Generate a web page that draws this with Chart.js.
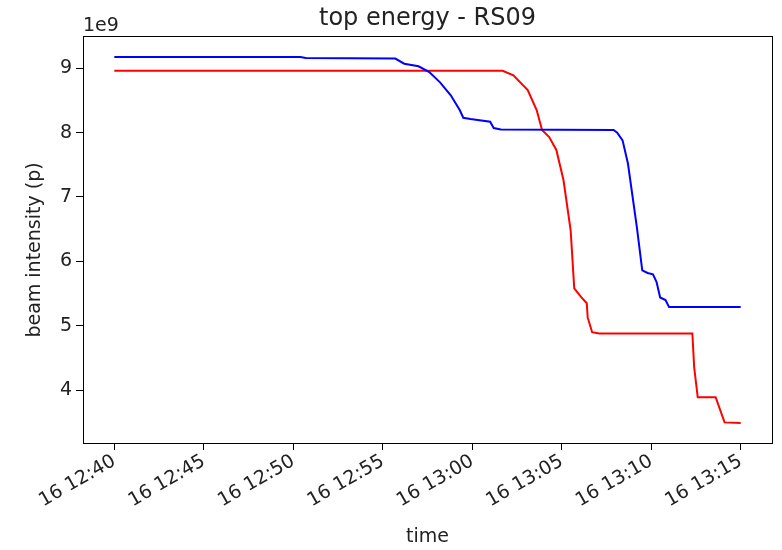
<!DOCTYPE html>
<html>
<head>
<meta charset="utf-8">
<script src="https://cdn.jsdelivr.net/npm/chart.js@4/dist/chart.umd.min.js"></script>
<style>
  html, body { margin: 0; padding: 0; background: #fff; }
  #wrap { width: 782px; height: 550px; }
</style>
</head>
<body>
<div id="wrap"><canvas id="chart" width="782" height="550"></canvas></div>
<script>
// minutes after 16 12:40, values in units of 1e9 protons
const blueMin = [0, 10.4, 10.7, 15.7, 16.2, 17.0, 17.6, 18.2, 18.8, 19.3, 19.5, 19.9, 21.0, 21.2, 21.6, 27.9, 28.1, 28.4, 28.7, 29.2, 29.5, 29.8, 30.1, 30.3, 30.5, 30.8, 31.0, 35];
const blueVal = [9.175, 9.175, 9.16, 9.15, 9.07, 9.03, 8.94, 8.78, 8.58, 8.35, 8.23, 8.21, 8.17, 8.07, 8.05, 8.04, 8.0, 7.88, 7.52, 6.53, 5.86, 5.82, 5.80, 5.68, 5.44, 5.40, 5.29, 5.29];

const redMin = [0, 21.7, 22.3, 23.1, 23.6, 23.9, 24.3, 24.7, 25.1, 25.5, 25.7, 26.1, 26.4, 26.45, 26.7, 27.1, 32.3, 32.4, 32.6, 33.6, 34.1, 35];
const redVal = [8.96, 8.96, 8.89, 8.66, 8.35, 8.04, 7.93, 7.73, 7.26, 6.48, 5.58, 5.44, 5.35, 5.13, 4.90, 4.88, 4.88, 4.36, 3.89, 3.89, 3.50, 3.49];

const xTicks = [0, 5, 10, 15, 20, 25, 30, 35];
const xLabels = ['16 12:40', '16 12:45', '16 12:50', '16 12:55', '16 13:00', '16 13:05', '16 13:10', '16 13:15'];
const yTicks = [4, 5, 6, 7, 8, 9];

const pts = (xs, ys) => xs.map((x, i) => ({ x, y: ys[i] }));
const FONT = 'DejaVu Sans';
const FS = 19;

// frame, title, y label and offset text drawn the matplotlib way
const decor = {
  id: 'decor',
  afterDraw(chart) {
    const { ctx, chartArea: a } = chart;
    ctx.save();
    ctx.strokeStyle = '#000';
    ctx.lineWidth = 1;
    ctx.strokeRect(Math.round(a.left) + 0.5, Math.round(a.top) + 0.5, Math.round(a.right - a.left), Math.round(a.bottom - a.top));
    ctx.fillStyle = '#222';
    ctx.font = '24px "' + FONT + '"';
    ctx.textAlign = 'center';
    ctx.textBaseline = 'alphabetic';
    ctx.fillText('top energy - RS09', (a.left + a.right) / 2, a.top - 11);
    ctx.font = FS + 'px "' + FONT + '"';
    ctx.textAlign = 'left';
    ctx.fillText('1e9', a.left, a.top - 5);
    // y axis label
    ctx.translate(40, 250);
    ctx.rotate(-Math.PI / 2);
    ctx.textAlign = 'center';
    ctx.fillText('beam intensity (p)', 0, 0);
    ctx.restore();
  }
};

new Chart(document.getElementById('chart'), {
  type: 'scatter',
  data: {
    datasets: [
      { data: pts(blueMin, blueVal), borderColor: '#0000ff', borderWidth: 2, showLine: true, pointRadius: 0, tension: 0 },
      { data: pts(redMin, redVal), borderColor: '#ff0000', borderWidth: 2, showLine: true, pointRadius: 0, tension: 0 }
    ]
  },
  options: {
    responsive: false,
    animation: false,
    layout: { padding: { left: 18, right: 10, top: 36, bottom: 0 } },
    plugins: { legend: { display: false }, tooltip: { enabled: false }, title: { display: false } },
    scales: {
      x: {
        type: 'linear',
        min: -1.75, max: 36.75,
        afterBuildTicks: s => { s.ticks = xTicks.map(v => ({ value: v })); },
        afterFit: s => { s.height = 107; },
        grid: { display: true, drawOnChartArea: false, drawTicks: true, tickLength: 7, tickColor: '#000' },
        border: { display: true, color: '#000' },
        ticks: {
          color: '#222', font: { family: FONT, size: FS }, padding: 0,
          minRotation: 30, maxRotation: 30, autoSkip: false,
          callback: v => xLabels[xTicks.indexOf(v)]
        },
        title: { display: true, text: 'time', color: '#222', font: { family: FONT, size: FS }, padding: { top: 4, bottom: 2 } }
      },
      y: {
        min: 3.18, max: 9.5,
        afterBuildTicks: s => { s.ticks = yTicks.map(v => ({ value: v })); },
        afterFit: s => { s.width = 65; },
        grid: { display: true, drawOnChartArea: false, drawTicks: true, tickLength: 7, tickColor: '#000' },
        border: { display: true, color: '#000' },
        ticks: { color: '#222', font: { family: FONT, size: FS }, padding: 4 },
        title: { display: false }
      }
    }
  },
  plugins: [decor]
});
</script>
</body>
</html>
